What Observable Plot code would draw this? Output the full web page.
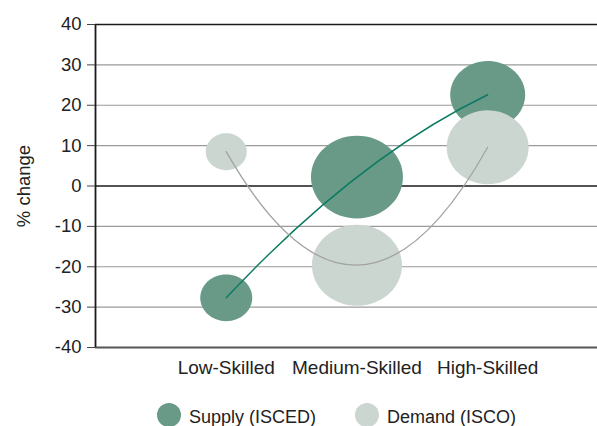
<!DOCTYPE html>
<html>
<head>
<meta charset="utf-8">
<script src="https://cdn.jsdelivr.net/npm/d3@7"></script>
<script src="https://cdn.jsdelivr.net/npm/@observablehq/plot@0.6"></script>
<style>
  html, body { margin: 0; padding: 0; background: #fff; }
  body { width: 597px; height: 426px; overflow: hidden; font-family: "Liberation Sans", Arial, sans-serif; }
  .legend { display: flex; align-items: center; height: 24px; margin-top: 18px; padding-left: 157px; font-size: 18px; line-height: 24px; color: #222; }
  .legend .sw { width: 24px; height: 24px; border-radius: 50%; flex: none; }
  .legend .lb { margin-left: 8px; padding-top: 3px; }
  .legend .gap { width: 39px; flex: none; }
</style>
</head>
<body>
<div id="chart"></div>
<script>
const categories = ["Low-Skilled", "Medium-Skilled", "High-Skilled"];
const supplyValues = [-27.7, 2.2, 22.6];
const demandValues = [8.5, -19.6, 9.6];
const supplySize = [26, 46, 37.5];
const demandSize = [20.5, 45, 41];
const yTicks = [-40, -30, -20, -10, 0, 10, 20, 30, 40];
const seriesNames = ["Supply (ISCED)", "Demand (ISCO)"];
const supplyColor = "#699a87";
const demandColor = "#cbd6d0";

const supply = categories.map((c, i) => ({cat: c, idx: i + 1, value: supplyValues[i], size: supplySize[i]}));
const demand = categories.map((c, i) => ({cat: c, idx: i + 1, value: demandValues[i], size: demandSize[i]}));

// slightly flattened bubble shape, as in the reference
const ellipse = {
  draw(ctx, size) {
    const rx = Math.sqrt(size / Math.PI), ry = rx * 0.9, k = 0.5523;
    ctx.moveTo(rx, 0);
    ctx.bezierCurveTo(rx, ry * k, rx * k, ry, 0, ry);
    ctx.bezierCurveTo(-rx * k, ry, -rx, ry * k, -rx, 0);
    ctx.bezierCurveTo(-rx, -ry * k, -rx * k, -ry, 0, -ry);
    ctx.bezierCurveTo(rx * k, -ry, rx, -ry * k, rx, 0);
    ctx.closePath();
  }
};

// smooth curve: a single quadratic Bezier through three points (Excel-like smoothing)
function curveQuad(context) {
  let pts = [];
  return {
    areaStart() {}, areaEnd() {},
    lineStart() { pts = []; },
    point(x, y) { pts.push([+x, +y]); },
    lineEnd() {
      if (pts.length === 3) {
        const [a, b, c] = pts;
        context.moveTo(a[0], a[1]);
        context.quadraticCurveTo(2 * b[0] - (a[0] + c[0]) / 2, 2 * b[1] - (a[1] + c[1]) / 2, c[0], c[1]);
      } else {
        pts.forEach((p, i) => i ? context.lineTo(p[0], p[1]) : context.moveTo(p[0], p[1]));
      }
    }
  };
}

const plot = Plot.plot({
  width: 597,
  height: 385,
  marginLeft: 95,
  marginRight: 0,
  marginTop: 24,
  marginBottom: 38,
  style: {fontFamily: '"Liberation Sans", Arial, sans-serif', fontSize: "18px", color: "#222", background: "#fff"},
  x: {type: "linear", domain: [0, 3.84]},
  y: {domain: [-40, 40]},
  r: {type: "identity"},
  marks: [
    Plot.ruleY(yTicks.filter(d => d !== 40 && d !== 0 && d !== -40), {stroke: "#9a9a9a", strokeWidth: 1.2}),
    Plot.ruleY([40, 0], {stroke: "#1a1a1a", strokeWidth: 1.5}),
    Plot.ruleY([-40], {stroke: "#555", strokeWidth: 2}),
    Plot.ruleX([0], {stroke: "#1a1a1a", strokeWidth: 1.8}),
    Plot.axisY({ticks: yTicks, tickSize: 8, tickPadding: 6, tickFormat: d => String(d), fontSize: 18.5, stroke: "#444",
      label: "% change", labelArrow: "none", labelAnchor: "center", labelOffset: 79}),
    Plot.axisX({ticks: [1, 2, 3], tickSize: 0, tickPadding: 13, tickFormat: i => categories[i - 1], fontSize: 19, label: null}),
    Plot.dot(supply, {x: "idx", y: "value", r: "size", fill: supplyColor, symbol: ellipse}),
    Plot.dot(demand, {x: "idx", y: "value", r: "size", fill: demandColor, symbol: ellipse}),
    Plot.line(supply, {x: "idx", y: "value", stroke: "#0b7a62", strokeWidth: 1.4, curve: curveQuad}),
    Plot.line(demand, {x: "idx", y: "value", stroke: "#a3a3a3", strokeWidth: 1.3, curve: curveQuad})
  ]
});
document.getElementById("chart").appendChild(plot);

const legend = document.createElement("div");
legend.className = "legend";
[[seriesNames[0], supplyColor], [seriesNames[1], demandColor]].forEach(([name, color], i) => {
  if (i > 0) { const g = document.createElement("span"); g.className = "gap"; legend.appendChild(g); }
  const sw = document.createElement("span"); sw.className = "sw"; sw.style.background = color;
  const lb = document.createElement("span"); lb.className = "lb"; lb.textContent = name;
  legend.appendChild(sw); legend.appendChild(lb);
});
document.getElementById("chart").appendChild(legend);
</script>
</body>
</html>
